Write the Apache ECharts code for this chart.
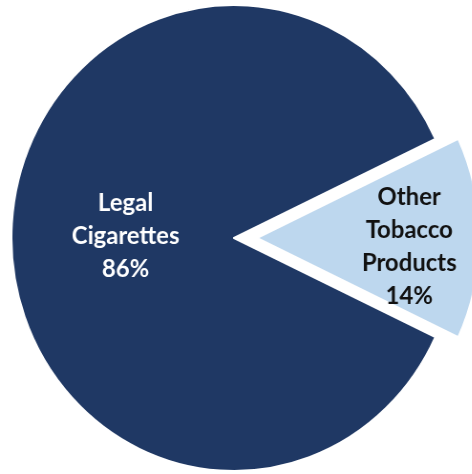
<!DOCTYPE html>
<html>
<head>
<meta charset="utf-8">
<script src="https://cdn.jsdelivr.net/npm/echarts@6/dist/echarts.min.js"></script>
<style>
  html, body { margin: 0; padding: 0; background: #ffffff; overflow: hidden; width: 472px; height: 474px; }
  /* the pie is drawn slightly narrower than it is tall */
  #chart { width: 495px; height: 474px; transform: scaleX(0.955); transform-origin: 0 0; }
</style>
</head>
<body>
<div id="chart"></div>
<script>
// Share of tobacco consumption by product type
const categories = ['Other\nTobacco\nProducts', 'Legal\nCigarettes'];
const shares = [14, 86];
const sliceColors = ['#BDD7EE', '#1F3864'];
const labelColors = ['#111111', '#ffffff'];
// nudges for each slice label, [dx, dy]
const labelNudge = [[40, 8], [6, -2]];

const chart = echarts.init(document.getElementById('chart'), null, { renderer: 'canvas' });

const data = categories.map((name, i) => ({
  name: name,
  value: shares[i],
  selected: i === 0,
  itemStyle: { color: sliceColors[i] },
  label: { color: labelColors[i] }
}));

chart.setOption({
  animation: false,
  backgroundColor: '#ffffff',
  series: [{
    type: 'pie',
    center: [245, 238],
    radius: 233,
    startAngle: 25.2,
    clockwise: true,
    selectedMode: 'single',
    selectedOffset: 24,
    silent: true,
    itemStyle: { borderColor: '#ffffff', borderWidth: 2 },
    label: {
      show: true,
      position: 'inside',
      formatter: p => p.name + '\n' + p.value + '%',
      fontFamily: 'Lato, "Open Sans", sans-serif',
      fontWeight: 'bold',
      fontSize: 25,
      lineHeight: 33,
      align: 'center'
    },
    labelLine: { show: false },
    labelLayout: p => ({ dx: labelNudge[p.dataIndex][0], dy: labelNudge[p.dataIndex][1] }),
    data: data
  }]
});
</script>
</body>
</html>
